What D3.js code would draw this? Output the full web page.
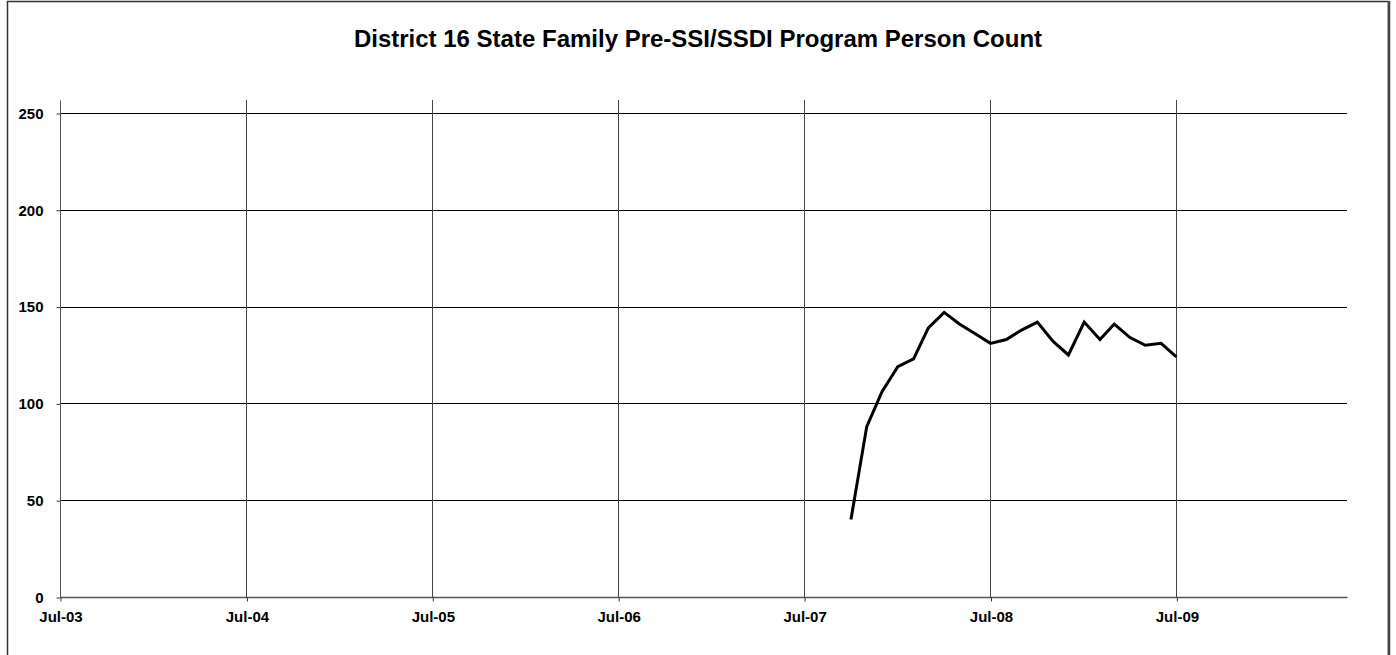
<!DOCTYPE html>
<html>
<head>
<meta charset="utf-8">
<script src="https://cdn.jsdelivr.net/npm/d3@7"></script>
<style>
  body { margin: 0; background: #fff; }
  svg { display: block; font-family: "Liberation Sans", Arial, sans-serif; }
</style>
</head>
<body>
<div class="main"></div>
<script>
//// data
const title = 'District 16 State Family Pre-SSI/SSDI Program Person Count';
const months = ['2007-10', '2007-11', '2007-12', '2008-01', '2008-02', '2008-03', '2008-04',
  '2008-05', '2008-06', '2008-07', '2008-08', '2008-09', '2008-10', '2008-11', '2008-12',
  '2009-01', '2009-02', '2009-03', '2009-04', '2009-05', '2009-06', '2009-07'];
const counts = [40, 88, 106, 119, 123, 139, 147, 141, 136, 131, 133, 138, 142, 132, 125,
  142, 133, 141, 134, 130, 131, 124];
const xTicks = ['2003-07', '2004-07', '2005-07', '2006-07', '2007-07', '2008-07', '2009-07'];
const yTicks = [0, 50, 100, 150, 200, 250];

//// layout
const width = 1396;
const height = 655;
const margin = { left: 60, right: 49, top: 100, bottom: 58 };
const parse = d3.timeParse('%Y-%m');

const svg = d3.select('.main').append('svg')
  .attr('width', width)
  .attr('height', height);

// outer frame
svg.append('rect')
  .attr('x', 7.5).attr('y', 1.5)
  .attr('width', 1381).attr('height', 680)
  .attr('fill', 'none')
  .attr('stroke', '#333')
  .attr('stroke-width', 1.5);
svg.append('line')
  .attr('x1', 1389).attr('x2', 1389)
  .attr('y1', 1).attr('y2', height)
  .attr('stroke', '#444')
  .attr('stroke-width', 2.5);

const x = d3.scaleTime()
  .domain([parse('2003-07'), parse('2010-06')])
  .range([margin.left, width - margin.right]);
const y = d3.scaleLinear()
  .domain([0, 256.7])
  .range([height - margin.bottom, margin.top]);

svg.append('text')
  .attr('x', 698)
  .attr('y', 46.5)
  .attr('text-anchor', 'middle')
  .attr('font-size', 24)
  .attr('font-weight', 'bold')
  .text(title);

// horizontal gridlines
svg.append('g')
  .selectAll('line')
  .data(yTicks.filter(d => d > 0))
  .enter()
  .append('line')
  .attr('x1', margin.left)
  .attr('x2', width - margin.right)
  .attr('y1', d => Math.round(y(d)) + 0.5)
  .attr('y2', d => Math.round(y(d)) + 0.5)
  .attr('stroke', '#000')
  .attr('stroke-width', 1);

// vertical gridlines
svg.append('g')
  .selectAll('line')
  .data(xTicks.slice(1))
  .enter()
  .append('line')
  .attr('x1', d => Math.round(x(parse(d))) + 0.5)
  .attr('x2', d => Math.round(x(parse(d))) + 0.5)
  .attr('y1', margin.top)
  .attr('y2', height - margin.bottom)
  .attr('stroke', '#444')
  .attr('stroke-width', 1);

// axes
const yAxis = d3.axisLeft(y).tickValues(yTicks).tickSize(4).tickPadding(13);
const yg = svg.append('g')
  .attr('transform', `translate(${margin.left + 0.5},0.5)`)
  .call(yAxis);
yg.select('.domain').attr('stroke', '#555').attr('d', `M0,${margin.top}V${height - margin.bottom}`);

const xAxis = d3.axisBottom(x)
  .tickValues(xTicks.map(parse))
  .tickFormat(d3.timeFormat('%b-%y'))
  .tickSize(4)
  .tickPadding(10);
const xg = svg.append('g')
  .attr('transform', `translate(0.5,${height - margin.bottom + 0.5})`)
  .call(xAxis);
xg.select('.domain').attr('stroke', '#555').attr('stroke-width', 1.5)
  .attr('d', `M${margin.left},0H${width - margin.right}`);

svg.selectAll('.tick text')
  .attr('font-size', 15)
  .attr('font-weight', 'bold')
  .attr('fill', '#000')
  .attr('font-family', '"Liberation Sans", Arial, sans-serif');
svg.selectAll('.tick line').attr('stroke', '#333');

// series line
const line = d3.line()
  .x((d, i) => x(parse(months[i])))
  .y(d => y(d));

svg.append('path')
  .datum(counts)
  .attr('d', line)
  .attr('fill', 'none')
  .attr('stroke', '#000')
  .attr('stroke-width', 3)
  .attr('stroke-linejoin', 'miter');
</script>
</body>
</html>
